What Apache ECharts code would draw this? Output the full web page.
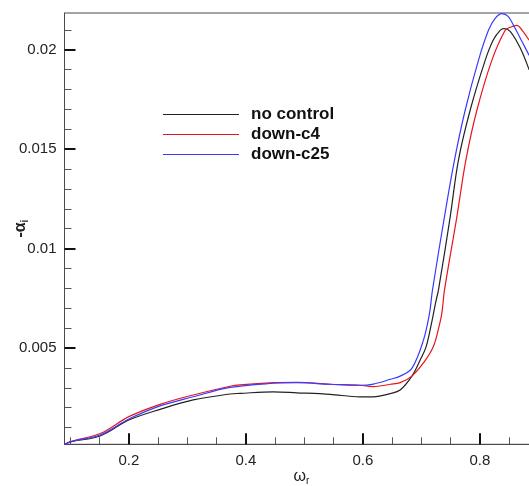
<!DOCTYPE html>
<html>
<head>
<meta charset="utf-8">
<script src="https://cdn.jsdelivr.net/npm/echarts@6/dist/echarts.min.js"></script>
<style>
  html, body { margin: 0; padding: 0; background: #fff; }
  #chart { width: 529px; height: 486px; }
</style>
</head>
<body>
<div id="chart"></div>
<script>
// Spatial growth rate -alpha_i versus frequency omega_r for three cases.
const noControlW = [0.09, 0.10, 0.151, 0.20, 0.2535, 0.31, 0.373, 0.39, 0.447, 0.487, 0.544, 0.595, 0.618, 0.647, 0.6638, 0.6838, 0.698, 0.7082, 0.7185, 0.7253, 0.7292, 0.7493, 0.7634, 0.7834, 0.8091, 0.8227, 0.8347, 0.8415, 0.8518, 0.8689, 0.8843];
const noControlA = [0.00014, 0.00028, 0.00058, 0.00138, 0.00192, 0.00239, 0.00269, 0.00272, 0.00280, 0.00275, 0.00267, 0.00255, 0.00255, 0.00271, 0.00289, 0.00359, 0.00440, 0.00507, 0.00641, 0.00741, 0.00791, 0.01160, 0.01445, 0.01696, 0.01947, 0.02048, 0.02098, 0.02106, 0.02093, 0.02010, 0.01899];

const downC4W = [0.09, 0.10, 0.151, 0.20, 0.2535, 0.31, 0.373, 0.39, 0.447, 0.487, 0.544, 0.595, 0.618, 0.647, 0.6638, 0.6838, 0.7048, 0.7202, 0.7287, 0.735, 0.7395, 0.7607, 0.7761, 0.7949, 0.8205, 0.8433, 0.8518, 0.8632, 0.8723, 0.8843];
const downC4A = [0.00014, 0.00029, 0.00070, 0.00155, 0.00217, 0.00264, 0.00308, 0.00315, 0.00326, 0.00328, 0.00318, 0.00313, 0.00306, 0.00318, 0.00326, 0.00359, 0.00430, 0.00505, 0.00590, 0.00674, 0.00791, 0.01160, 0.01445, 0.01696, 0.01947, 0.02098, 0.02113, 0.02123, 0.02098, 0.02048];

const downC25W = [0.09, 0.10, 0.151, 0.20, 0.2535, 0.31, 0.373, 0.447, 0.487, 0.544, 0.595, 0.618, 0.647, 0.6638, 0.6838, 0.7036, 0.7139, 0.719, 0.7395, 0.7566, 0.7749, 0.7976, 0.8147, 0.8262, 0.8376, 0.8484, 0.8603, 0.8723, 0.8843];
const downC25A = [0.00014, 0.00029, 0.00063, 0.00143, 0.00209, 0.00255, 0.00302, 0.00323, 0.00326, 0.00318, 0.00313, 0.00319, 0.00343, 0.00359, 0.00398, 0.00540, 0.00674, 0.00791, 0.01160, 0.01445, 0.01696, 0.01947, 0.02098, 0.02158, 0.02182, 0.02168, 0.02108, 0.02040, 0.01972];

const seriesNames = ['no control', 'down-c4', 'down-c25'];
const seriesColors = ['#222222', '#e8141b', '#3a3aff'];

const xMajor = [0.2, 0.4, 0.6, 0.8];
const xMinor = [0.1, 0.15, 0.25, 0.3, 0.35, 0.45, 0.5, 0.55, 0.65, 0.7, 0.75, 0.85];
const yMajor = [0.005, 0.01, 0.015, 0.02];
const yMinor = [0.001, 0.002, 0.003, 0.004, 0.006, 0.007, 0.008, 0.009, 0.011, 0.012, 0.013, 0.014, 0.016, 0.017, 0.018, 0.019, 0.021];

const X_MIN = 0.09, X_MAX = 0.9;
const Y_MIN = 0.00016, Y_MAX = 0.02185;

function zip(w, a) { return w.map((v, i) => [v, a[i]]); }

const FONT = 'Liberation Sans, Arial, sans-serif';
const axisLineStyle = { color: '#4a4a4a', width: 1 };
const labelFont = { fontFamily: FONT, fontSize: 15, color: '#222' };

const chart = echarts.init(document.getElementById('chart'), null, { renderer: 'canvas' });

chart.setOption({
  animation: false,
  backgroundColor: '#ffffff',
  grid: {
    left: 64.5, top: 13, width: 473.85, bottom: 41.7,
    outerBoundsMode: 'none',
    containLabel: false,
    show: true, borderColor: '#4a4a4a', borderWidth: 1
  },
  legend: {
    orient: 'vertical',
    left: 158, top: 101,
    icon: 'rect',
    itemWidth: 76, itemHeight: 1, itemGap: 3,
    textStyle: { fontFamily: FONT, fontSize: 17, fontWeight: 'bold', color: '#111', padding: [0, 0, 0, 7] },
    data: seriesNames
  },
  xAxis: [
    {
      type: 'value', min: X_MIN, max: X_MAX, position: 'bottom',
      name: '{w|ω}{s|r}', nameLocation: 'middle', nameGap: 22, nameMoveOverlap: false,
      nameTextStyle: {
        rich: {
          w: { fontFamily: FONT, fontSize: 16, color: '#222', lineHeight: 20, verticalAlign: 'middle' },
          s: { fontFamily: FONT, fontSize: 10, color: '#222', lineHeight: 20, verticalAlign: 'bottom' }
        }
      },
      axisLine: { show: true, lineStyle: axisLineStyle },
      axisTick: { show: true, inside: true, length: 11, lineStyle: { color: '#111', width: 2 }, customValues: xMajor },
      axisLabel: Object.assign({ margin: 9, customValues: xMajor, formatter: v => String(v) }, labelFont),
      splitLine: { show: false }
    },
    {
      type: 'value', min: X_MIN, max: X_MAX, position: 'bottom', offset: 0,
      axisLine: { show: false },
      axisTick: { show: true, inside: true, length: 7, lineStyle: { color: '#555', width: 1 }, customValues: xMinor },
      axisLabel: { show: false },
      splitLine: { show: false }
    }
  ],
  yAxis: [
    {
      type: 'value', min: Y_MIN, max: Y_MAX, position: 'left',
      name: '{a|-α}{s|i}', nameLocation: 'middle', nameGap: 34, nameRotate: 90, nameMoveOverlap: false,
      nameTextStyle: {
        rich: {
          a: { fontFamily: FONT, fontSize: 16, fontWeight: 'bold', color: '#222', lineHeight: 20, verticalAlign: 'middle' },
          s: { fontFamily: FONT, fontSize: 10, fontWeight: 'bold', color: '#222', lineHeight: 20, verticalAlign: 'bottom' }
        }
      },
      axisLine: { show: true, lineStyle: axisLineStyle },
      axisTick: { show: true, inside: true, length: 11, lineStyle: { color: '#111', width: 2 }, customValues: yMajor },
      axisLabel: Object.assign({ margin: 8, customValues: yMajor, formatter: v => String(+v.toFixed(3)) }, labelFont),
      splitLine: { show: false }
    },
    {
      type: 'value', min: Y_MIN, max: Y_MAX, position: 'left', offset: 0,
      axisLine: { show: false },
      axisTick: { show: true, inside: true, length: 7, lineStyle: { color: '#555', width: 1 }, customValues: yMinor },
      axisLabel: { show: false },
      splitLine: { show: false }
    }
  ],
  series: [
    [noControlW, noControlA],
    [downC4W, downC4A],
    [downC25W, downC25A]
  ].map((pair, i) => ({
    name: seriesNames[i],
    type: 'line',
    xAxisIndex: 0, yAxisIndex: 0,
    data: zip(pair[0], pair[1]),
    smooth: 0.35,
    symbol: 'none',
    clip: true,
    color: seriesColors[i],
    lineStyle: { color: seriesColors[i], width: 1.2 }
  }))
});
</script>
</body>
</html>
